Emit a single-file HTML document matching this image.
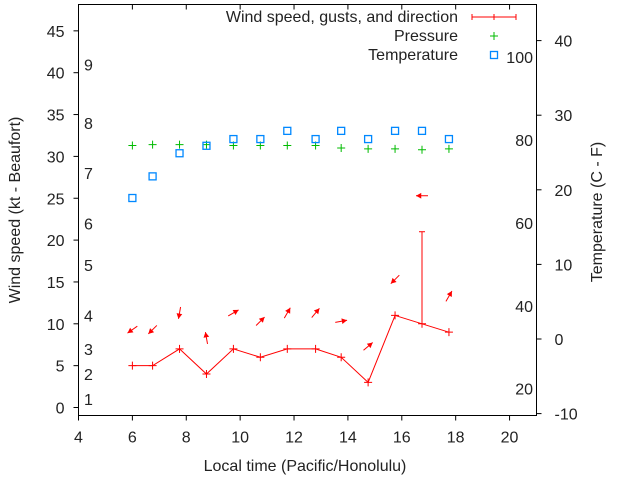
<!DOCTYPE html>
<html><head><meta charset="utf-8"><style>
body{margin:0;background:#fff}
svg text{font-family:"Liberation Sans",sans-serif;font-size:16px;fill:#222}
</style></head><body>
<svg id="chart" width="640" height="480" xmlns="http://www.w3.org/2000/svg"></svg>
<script>
const times=[6.0,6.75,7.75,8.75,9.75,10.75,11.75,12.8,13.75,14.75,15.75,16.75,17.75];
const wind=[5,5,7,4,7,6,7,7,6,3,11,10,9];
const gust=[null,null,null,null,null,null,null,null,null,null,null,21,null];
const dirAngle=[215,225,260,100,30,45,60,50,10,40,225,180,60];
const pressure=[31.3,31.4,31.4,31.4,31.3,31.3,31.3,31.3,31.0,30.9,30.9,30.8,30.9];
const tempC=[18.9,21.8,24.9,25.9,26.8,26.8,27.9,26.8,27.9,26.8,27.9,27.9,26.8];
const xTicks=[4,6,8,10,12,14,16,18,20];
const yTicks=[0,5,10,15,20,25,30,35,40,45];
const y2Ticks=[-10,0,10,20,30,40];
const beaufort=[[1,1],[2,4],[3,7],[4,11],[5,17],[6,22],[7,28],[8,34],[9,41]];
const fTicks=[20,40,60,80,100];

const L=78.5,R=536.5,T=4.5,B=415.5;
const xs=v=>L+(v-4)*(R-L)/17;
const ys=v=>407.5-v*8.37;
const y2=v=>339-v*7.46;
const svg=document.getElementById('chart');
const NS='http://www.w3.org/2000/svg';
function mk(tag,attrs,name,txt){const e=document.createElementNS(NS,tag);for(const k in attrs)e.setAttribute(k,attrs[k]);


if(txt!==undefined)e.textContent=txt;svg.appendChild(e);return e;}
mk('rect',{x:L,y:T,width:R-L,height:B-T,fill:'none',stroke:'#000','stroke-width':1},'plot-frame');
xTicks.forEach(v=>{const x=xs(v);
mk('line',{x1:x,x2:x,y1:B,y2:B+5,stroke:'#000'},'x-tick');
mk('line',{x1:x,x2:x,y1:T,y2:T+5,stroke:'#000'},'x-tick-top');
mk('text',{x:x,y:B+27,'text-anchor':'middle'},'x-tick-label',v);});
yTicks.forEach(v=>{const y=ys(v);
mk('line',{x1:L-5,x2:L,y1:y,y2:y,stroke:'#000'},'y-tick');
mk('text',{x:L-14,y:y+6,'text-anchor':'end'},'y-tick-label',v);});
y2Ticks.forEach(v=>{const y=y2(v);
mk('line',{x1:R,x2:R+5,y1:y,y2:y,stroke:'#000'},'y2-tick');
mk('text',{x:R+18,y:y+6,'text-anchor':'start'},'y2-tick-label',v);});
beaufort.forEach(b=>{mk('text',{x:84,y:ys(b[1])+6},'beaufort-label',b[0]);});
fTicks.forEach(f=>{mk('text',{x:533,y:y2((f-32)*5/9)+6,'text-anchor':'end'},'fahrenheit-label',f);});
mk('text',{x:305,y:471,'text-anchor':'middle'},'x-axis-title','Local time (Pacific/Honolulu)');
mk('text',{x:20,y:210,'text-anchor':'middle',transform:'rotate(-90 20 210)'},'y-axis-title','Wind speed (kt - Beaufort)');
mk('text',{x:602,y:212,'text-anchor':'middle',transform:'rotate(-90 602 212)'},'y2-axis-title','Temperature (C - F)');
mk('polyline',{points:times.map((t,i)=>xs(t)+','+ys(wind[i])).join(' '),fill:'none',stroke:'#f00','stroke-width':1},'wind-line');
times.forEach((t,i)=>{const x=xs(t),y=ys(wind[i]);
mk('path',{d:`M${x-4},${y}H${x+4}M${x},${y-4}V${y+4}`,stroke:'#f00'},'wind-point');
let top=wind[i];
if(gust[i]!=null){top=gust[i];mk('line',{x1:x,x2:x,y1:y,y2:ys(gust[i]),stroke:'#f00'},'gust-bar');
mk('line',{x1:x-3,x2:x+3,y1:ys(gust[i]),y2:ys(gust[i]),stroke:'#f00'},'gust-cap');}
const cx=x,cy=ys(top+4.3),a=dirAngle[i]*Math.PI/180,len=12;
const x0=cx-Math.cos(a)*len/2,y0=cy+Math.sin(a)*len/2,x1=cx+Math.cos(a)*len/2,y1=cy-Math.sin(a)*len/2;
mk('line',{x1:x0,y1:y0,x2:x1,y2:y1,stroke:'#f00'},'wind-direction-arrow');
const h=6,s=0.5;
mk('polygon',{points:`${x1},${y1} ${x1-h*Math.cos(a-s)},${y1+h*Math.sin(a-s)} ${x1-h*Math.cos(a+s)},${y1+h*Math.sin(a+s)}`,fill:'#f00'},'arrow-head');
const py=ys(pressure[i]);
mk('path',{d:`M${x-4},${py}H${x+4}M${x},${py-4}V${py+4}`,stroke:'#0b0'},'pressure-point');
const ty=y2(tempC[i]);
mk('rect',{x:x-3.5,y:ty-3.5,width:7,height:7,fill:'none',stroke:'#08f','stroke-width':1.3},'temperature-point');
});
mk('text',{x:458,y:22,'text-anchor':'end'},'legend-wind-label','Wind speed, gusts, and direction');
mk('path',{d:'M472,17H516M472,14V20M516,14V20M494,14V20',stroke:'#f00'},'legend-wind-sample');
mk('text',{x:458,y:41,'text-anchor':'end'},'legend-pressure-label','Pressure');
mk('path',{d:'M490,36H498M494,32V40',stroke:'#0b0'},'legend-pressure-sample');
mk('text',{x:458,y:60,'text-anchor':'end'},'legend-temperature-label','Temperature');
mk('rect',{x:490.5,y:51.5,width:7,height:7,fill:'none',stroke:'#08f','stroke-width':1.3},'legend-temperature-sample');
</script>
</body></html>
